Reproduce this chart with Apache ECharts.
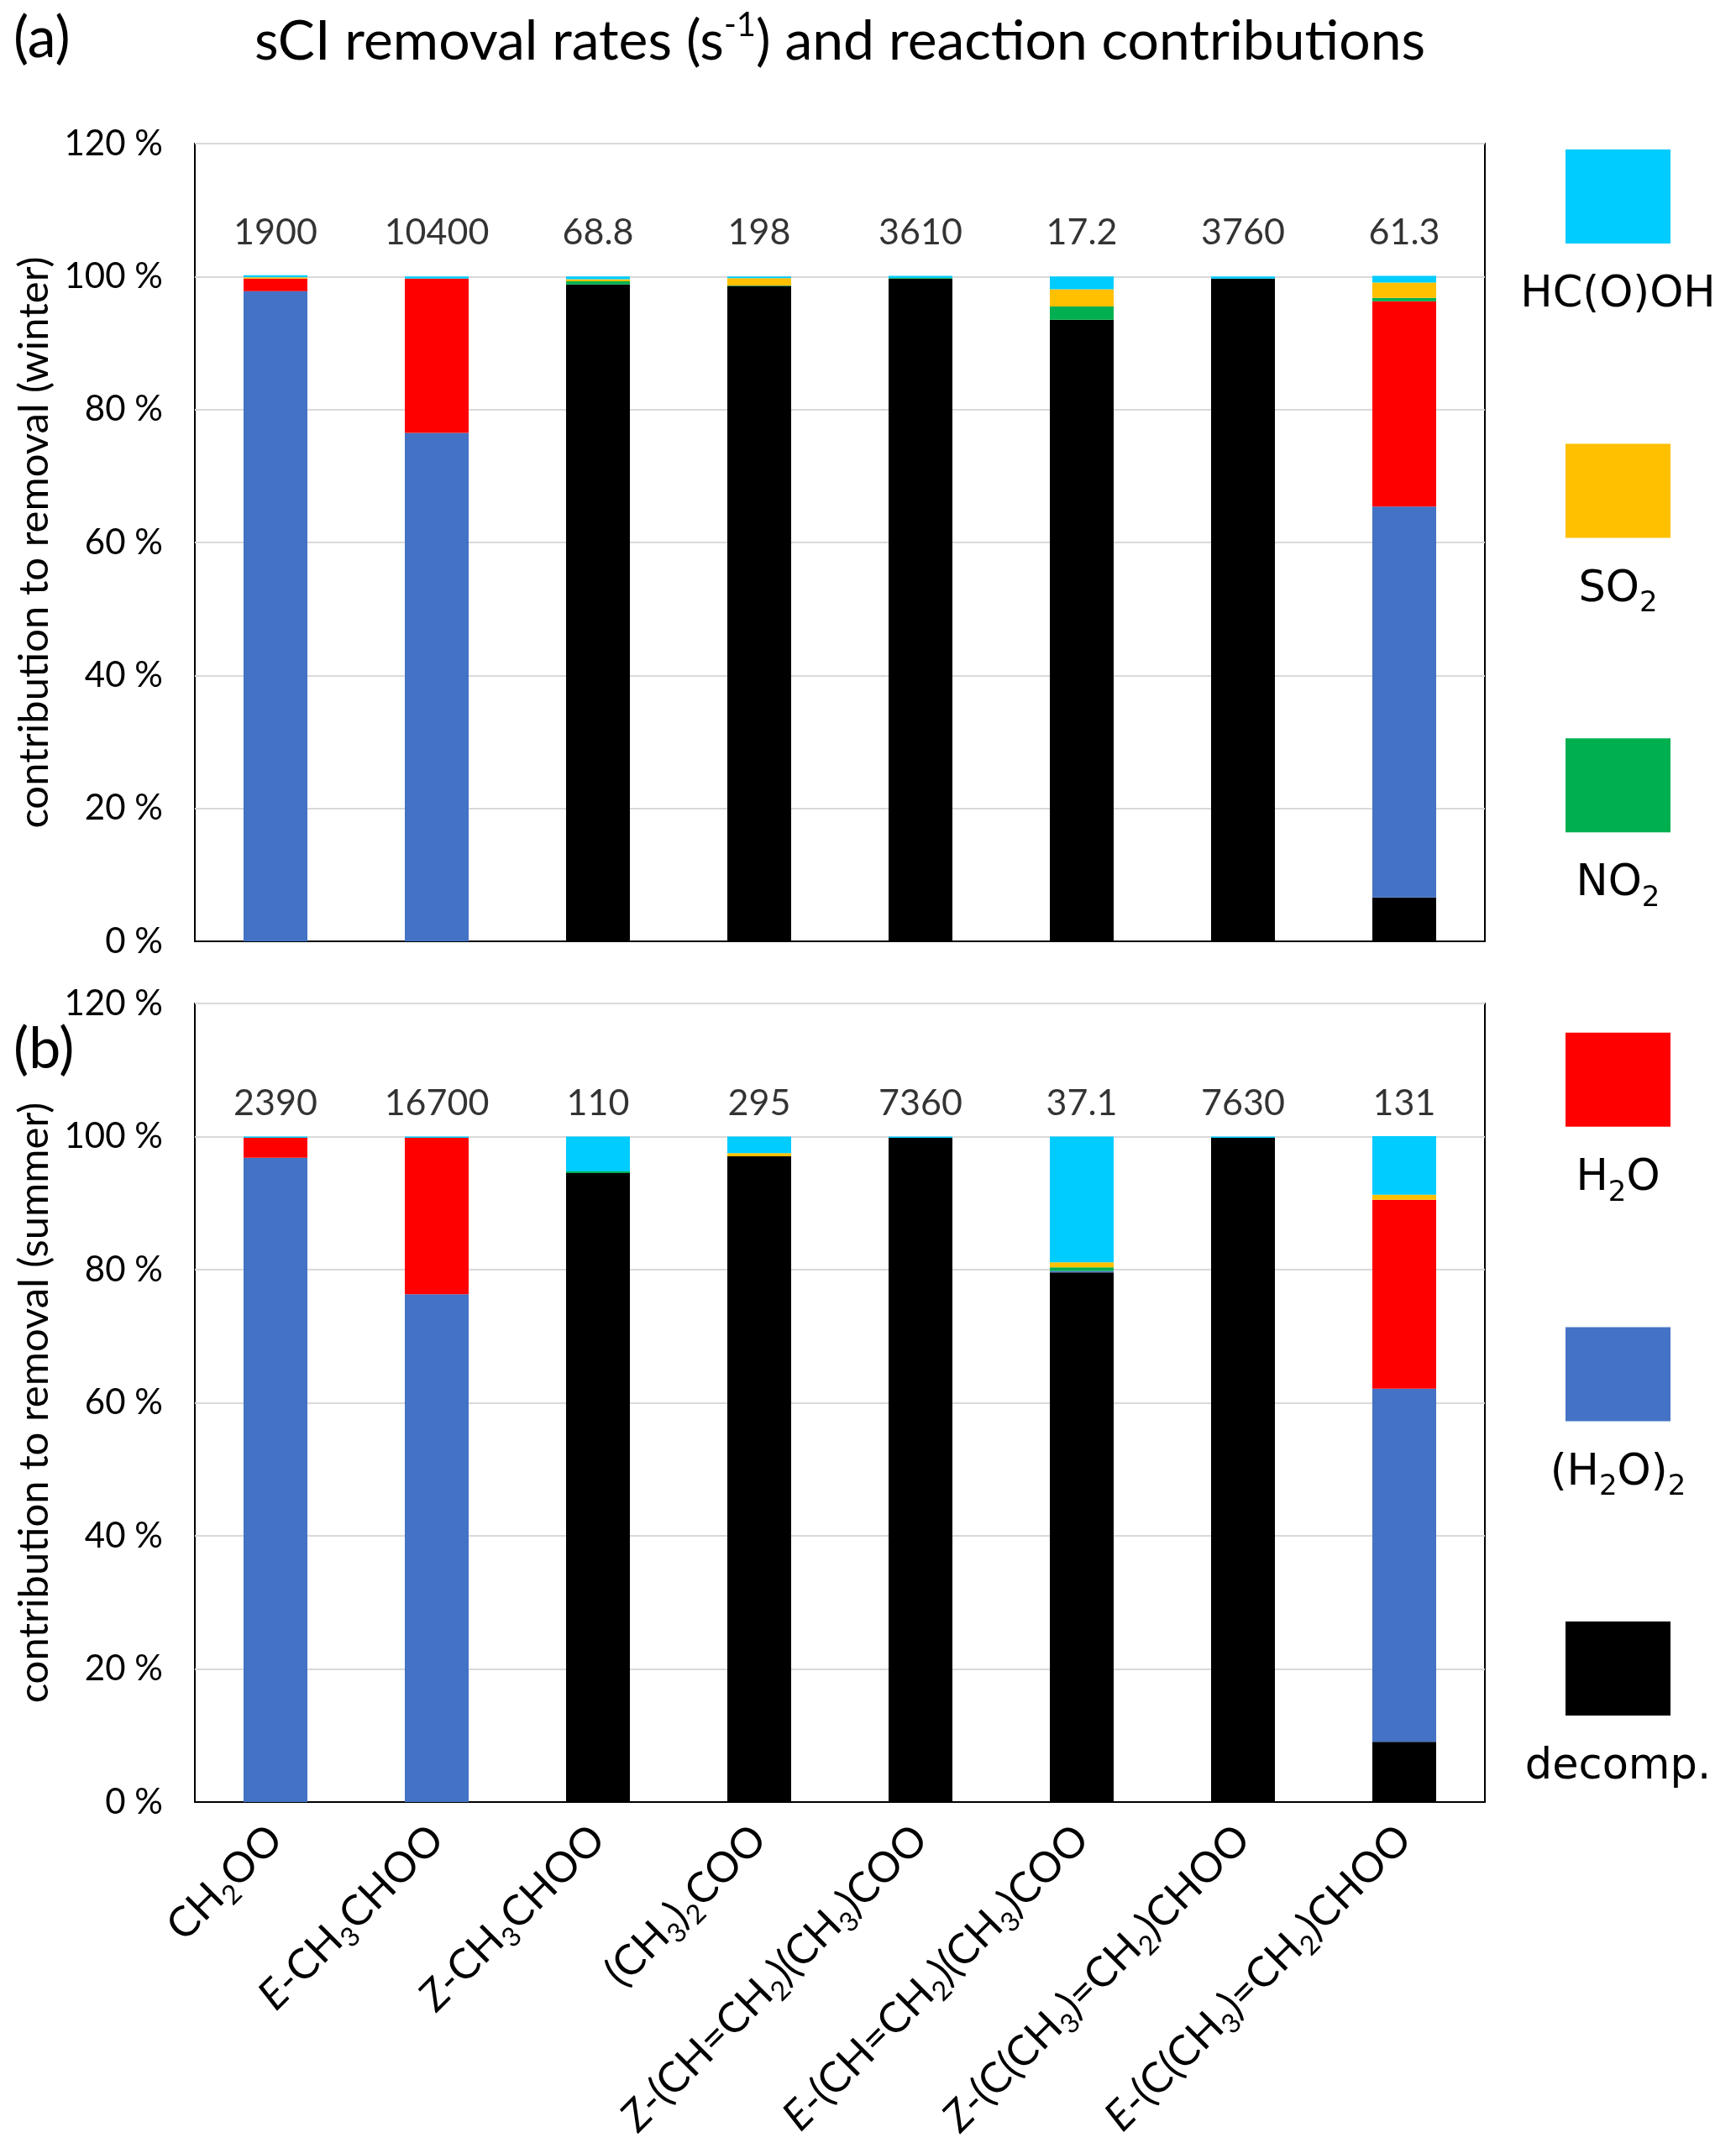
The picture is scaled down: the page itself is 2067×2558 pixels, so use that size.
<!DOCTYPE html>
<html><head><meta charset="utf-8">
<script src="https://cdn.jsdelivr.net/npm/echarts@6/dist/echarts.min.js"></script>
<style>html,body{margin:0;padding:0;background:#fff}#c{width:2067px;height:2558px}</style>
</head><body><div id="c"></div>
<script>
// ---------- data ----------
const categories = ['CH2OO', 'E-CH3CHOO', 'Z-CH3CHOO', '(CH3)2COO',
  'Z-(CH=CH2)(CH3)COO', 'E-(CH=CH2)(CH3)COO', 'Z-(C(CH3)=CH2)CHOO', 'E-(C(CH3)=CH2)CHOO'];
const seriesNames = ['decomp.', '(H2O)2', 'H2O', 'NO2', 'SO2', 'HC(O)OH'];
const seriesColors = ['#000000', '#4472C4', '#FF0000', '#00B050', '#FFC000', '#00CCFF'];

const winterDecomp = [0, 0, 98.8, 98.6, 99.7, 93.5, 99.7, 6.6];
const winterDimer  = [97.8, 76.5, 0, 0, 0, 0, 0, 58.8];
const winterH2O    = [1.9, 23.2, 0, 0, 0, 0, 0, 30.9];
const winterNO2    = [0, 0, 0.5, 0.05, 0.1, 2.0, 0, 0.5];
const winterSO2    = [0.2, 0, 0.3, 1.1, 0, 2.6, 0, 2.3];
const winterHCOOH  = [0.3, 0.3, 0.4, 0.25, 0.3, 1.9, 0.3, 1.0];

const summerDecomp = [0, 0, 94.5, 97.05, 99.8, 79.6, 99.8, 9.05];
const summerDimer  = [96.8, 76.3, 0, 0, 0, 0.2, 0, 53.05];
const summerH2O    = [3.0, 23.5, 0, 0, 0, 0, 0, 28.4];
const summerNO2    = [0, 0, 0.25, 0, 0, 0.55, 0, 0];
const summerSO2    = [0, 0, 0, 0.45, 0, 0.75, 0, 0.75];
const summerHCOOH  = [0.2, 0.2, 5.25, 2.5, 0.2, 18.9, 0.2, 8.8];

const winterRates = ['1900', '10400', '68.8', '198', '3610', '17.2', '3760', '61.3'];
const summerRates = ['2390', '16700', '110', '295', '7360', '37.1', '7630', '131'];

const yMin = 0, yMax = 120, yInterval = 20;

// ---------- chart ----------
const FONT = 'Lato';
const winterData = [winterDecomp, winterDimer, winterH2O, winterNO2, winterSO2, winterHCOOH];
const summerData = [summerDecomp, summerDimer, summerH2O, summerNO2, summerSO2, summerHCOOH];
const RATE_LEVEL_W = 106.6, RATE_LEVEL_S = 105.0;

function sub(s) { return s.replace(/(\d)/g, '{s|$1}'); }
function catLabel(v) {
  const m = v.match(/^([EZ])-(.*)$/);
  return m ? '{i|' + m[1] + '}-' + sub(m[2]) : sub(v);
}

const grids = [
  { left: 232, top: 171, width: 1536, height: 950, show: true, borderColor: '#000', borderWidth: 2 },
  { left: 232, top: 1195, width: 1536, height: 951, show: true, borderColor: '#000', borderWidth: 2 }
];

function xAxis(i, showLabels) {
  return {
    type: 'category', gridIndex: i, data: categories,
    axisTick: { show: false },
    axisLine: { show: true, lineStyle: { color: '#000', width: 2 } },
    axisLabel: showLabels ? {
      show: true, interval: 0, rotate: 45, margin: 36,
      fontFamily: FONT, fontSize: 50, color: '#000', lineHeight: 64,
      formatter: v => catLabel(v),
      rich: {
        s: { fontFamily: FONT, fontSize: 32, color: '#000', verticalAlign: 'bottom', lineHeight: 32 },
        i: { fontFamily: FONT, fontStyle: 'italic', fontSize: 50, color: '#000', lineHeight: 64 }
      }
    } : { show: false }
  };
}
function yAxis(i, name) {
  return {
    type: 'value', gridIndex: i, min: yMin, max: yMax, interval: yInterval,
    name: name, nameLocation: 'middle', nameRotate: 90, nameGap: 166,
    nameTextStyle: { fontFamily: FONT, fontSize: 49, color: '#000' },
    axisLine: { show: false }, axisTick: { show: false },
    axisLabel: { formatter: '{value} %', fontFamily: FONT, fontSize: 42, color: '#000', margin: 38 },
    splitLine: { show: true, lineStyle: { color: '#d9d9d9', width: 2 } }
  };
}

const series = [];
[winterData, summerData].forEach((set, gi) => {
  set.forEach((arr, k) => {
    series.push({
      type: 'bar', name: seriesNames[k], stack: 'g' + gi,
      xAxisIndex: gi, yAxisIndex: gi, data: arr, barWidth: 76,
      itemStyle: { color: seriesColors[k] }, silent: true
    });
  });
});
[[winterRates, RATE_LEVEL_W], [summerRates, RATE_LEVEL_S]].forEach(([rates, lvl], gi) => {
  series.push({
    type: 'scatter', xAxisIndex: gi, yAxisIndex: gi, silent: true,
    symbolSize: 1, itemStyle: { color: 'rgba(0,0,0,0)' },
    data: rates.map((r, i) => [i, lvl]),
    label: { show: true, position: 'inside', formatter: p => rates[p.dataIndex],
      fontFamily: FONT, fontSize: 43, color: '#000' }
  });
});

// legend (drawn as graphics, top to bottom: reverse of stack order)
const legendItems = [];
const LEG_X = 1864, LEG_W = 125, LEG_H = 112, LEG_TOP = 178, LEG_STEP = 350.6;
const subRich = { s: { fontFamily: 'DejaVu Sans', fontSize: 34, fill: '#000', verticalAlign: 'bottom', lineHeight: 32 } };
for (let j = 0; j < 6; j++) {
  const k = 5 - j;
  const top = LEG_TOP + j * LEG_STEP;
  legendItems.push({ type: 'rect', shape: { x: LEG_X, y: top, width: LEG_W, height: LEG_H }, style: { fill: seriesColors[k] } });
  legendItems.push({ type: 'text', x: LEG_X + LEG_W / 2, y: top + LEG_H + 62,
    style: { text: sub(seriesNames[k]), fontFamily: 'DejaVu Sans', fontSize: 51, fill: '#000',
      align: 'center', verticalAlign: 'middle', lineHeight: 68, rich: subRich } });
}

const graphics = legendItems.concat([
  { type: 'text', x: 1000, y: 50, style: { text: 'sCI removal rates (s{sup|-1}) and reaction contributions',
      fontFamily: FONT, fontSize: 66, fill: '#000', align: 'center', verticalAlign: 'middle', lineHeight: 80,
      rich: { sup: { fontFamily: FONT, fontSize: 40, fill: '#000', verticalAlign: 'top', lineHeight: 44 } } } },
  { type: 'text', x: 16, y: 46, style: { text: '(a)', fontFamily: FONT, fontSize: 68, fill: '#000', align: 'left', verticalAlign: 'middle' } },
  { type: 'text', x: 16, y: 1250, style: { text: '(b)', fontFamily: FONT, fontSize: 68, fill: '#000', align: 'left', verticalAlign: 'middle' } }
]);

const chart = echarts.init(document.getElementById('c'), null, { renderer: 'canvas' });
chart.setOption({
  animation: false,
  backgroundColor: '#fff',
  grid: grids,
  xAxis: [xAxis(0, false), xAxis(1, true)],
  yAxis: [yAxis(0, 'contribution to removal (winter)'), yAxis(1, 'contribution to removal (summer)')],
  series: series,
  graphic: graphics
});
</script></body></html>
